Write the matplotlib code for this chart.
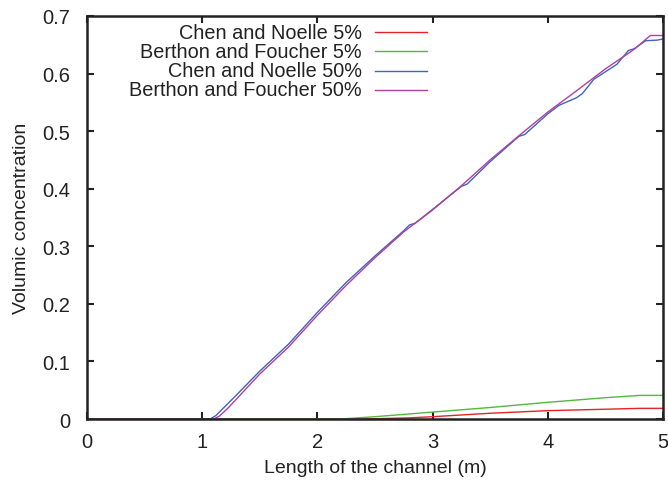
import matplotlib
matplotlib.use("Agg")
import matplotlib.pyplot as plt

plt.rcParams['font.family'] = ['Liberation Sans', 'DejaVu Sans']

# Chen and Noelle 5%
chen5_x = [0.0, 2.4, 2.8, 3.0, 3.5, 4.0, 4.5, 4.8, 5.0]
chen5_y = [0.0, 0.0, 0.002, 0.004, 0.010, 0.0145, 0.017, 0.0185, 0.0185]

# Berthon and Foucher 5%
berthon5_x = [0.0, 2.2, 2.5, 3.0, 3.5, 4.0, 4.5, 4.8, 5.0]
berthon5_y = [0.0, 0.0, 0.004, 0.012, 0.020, 0.029, 0.037, 0.041, 0.041]

# Chen and Noelle 50%
chen50_x = [0.0, 1.07, 1.12, 1.2, 1.3, 1.5, 1.75, 2.0, 2.25, 2.5, 2.75, 2.8,
            2.85, 3.0, 3.25, 3.3, 3.5, 3.75, 3.8, 4.0, 4.1, 4.25, 4.3, 4.4,
            4.5, 4.6, 4.7, 4.75, 4.85, 4.95, 5.0]
chen50_y = [0.0, 0.0, 0.006, 0.022, 0.042, 0.083, 0.130, 0.185, 0.237, 0.283,
            0.327, 0.337, 0.340, 0.364, 0.404, 0.408, 0.447, 0.491, 0.494,
            0.530, 0.545, 0.558, 0.565, 0.590, 0.603, 0.616, 0.640, 0.643,
            0.657, 0.658, 0.660]

# Berthon and Foucher 50%
berthon50_x = [0.0, 1.10, 1.15, 1.22, 1.3, 1.5, 1.75, 2.0, 2.25, 2.5, 2.75,
               3.0, 3.25, 3.5, 3.75, 4.0, 4.25, 4.5, 4.75, 4.89, 5.0]
berthon50_y = [0.0, 0.0, 0.005, 0.018, 0.035, 0.078, 0.125, 0.180, 0.232,
               0.280, 0.325, 0.363, 0.405, 0.450, 0.492, 0.533, 0.570, 0.608,
               0.642, 0.666, 0.666]

labels = ["Chen and Noelle 5%", "Berthon and Foucher 5%",
          "Chen and Noelle 50%", "Berthon and Foucher 50%"]
colors = ["#e4222a", "#52b840", "#3c64c0", "#b0409e"]

fig = plt.figure(figsize=(6.68, 4.81), dpi=100)
ax = fig.add_axes([0.130, 0.1268, 0.8625, 0.838])

series = [(chen5_x, chen5_y), (berthon5_x, berthon5_y),
          (chen50_x, chen50_y), (berthon50_x, berthon50_y)]
for (xs, ys), c in zip(series, colors):
    ax.plot(xs, ys, color=c, lw=1.0)

ax.set_xlim(0, 5)
ax.set_ylim(0, 0.7)
ax.set_xticks([0, 1, 2, 3, 4, 5])
ax.set_yticks([0, 0.1, 0.2, 0.3, 0.4, 0.5, 0.6, 0.7])
ax.set_yticklabels(["0", "0.1", "0.2", "0.3", "0.4", "0.5", "0.6", "0.7"])
ax.tick_params(direction="in", length=5, width=1.5, top=True, right=True,
               labelsize=14.5, colors="#222222")
ax.tick_params(axis="y", pad=12)
ax.tick_params(axis="x", pad=9)
for s in ax.spines.values():
    s.set_linewidth(1.8)
    s.set_color("#222222")

ax.set_xlabel("Length of the channel (m)", fontsize=14, color="#222222",
              labelpad=6)
ax.set_ylabel("Volumic concentration", fontsize=14, color="#222222",
              labelpad=9)

# gnuplot style key: text right-justified, sample to the right
rows = [0.9596, 0.9124, 0.8643, 0.8164]
for lab, c, yy in zip(labels, colors, rows):
    ax.text(0.4774, yy, lab, ha="right", va="center", fontsize=14.3,
            color="#222222", transform=ax.transAxes)
    ax.plot([0.5, 0.59], [yy, yy], color=c, lw=1.0, transform=ax.transAxes)

fig.savefig("out.png", dpi=100)
